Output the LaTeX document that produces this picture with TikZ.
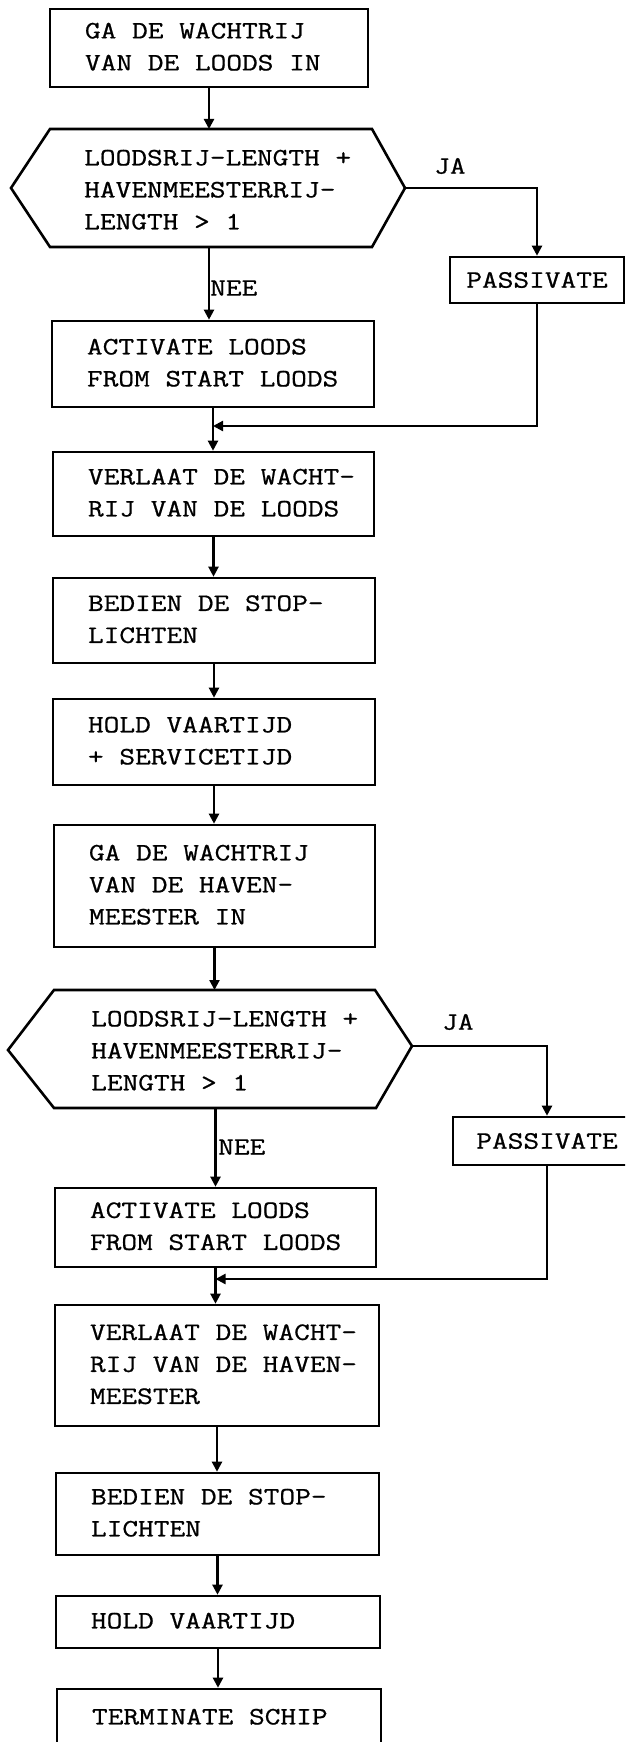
\documentclass[tikz,border=0pt]{standalone}
\usepackage{fontspec}
\newfontfamily\tw[FakeStretch=1.22,FakeBold=0.8]{Latin Modern Mono}
\usetikzlibrary{arrows.meta}
\newcommand\lbox[2]{\makebox[#1][l]{\begin{tabular}{@{}l@{}}#2\end{tabular}}}
\newcommand\lns[1]{\begin{tabular}{@{}l@{}}#1\end{tabular}}
\tikzset{
  every node/.style={font=\tw\fontsize{25}{32}\selectfont, text=black},
  box/.style={draw, line width=2.6pt, rectangle, inner xsep=35pt, inner ysep=0pt},
  pbox/.style={draw, line width=2.6pt, rectangle, inner sep=0pt},
  txt/.style={inner sep=0pt},
  arr/.style={line width=2.2pt, -{Triangle[length=10pt,width=10pt]}},
  hex/.style={draw, line width=2.6pt, line join=miter},
}
\begin{document}
\begin{tikzpicture}[x=1pt,y=-1pt]
\useasboundingbox (0,0) rectangle (625,1742);
\clip (0,0) rectangle (625,1742);

% boxes
\node[box, minimum height=78pt] (b1) at (209,48) {\lbox{248pt}{GA DE WACHTRIJ\\VAN DE LOODS IN}};
\node[box, minimum height=86pt] (a1) at (213,364) {\lbox{252pt}{ACTIVATE LOODS\\FROM START LOODS}};
\node[box, minimum height=84pt] (v1) at (213.5,494) {\lbox{251pt}{VERLAAT DE WACHT-\\RIJ VAN DE LOODS}};
\node[box, minimum height=85pt] (bd1) at (214,620.5) {\lbox{252pt}{BEDIEN DE STOP-\\LICHTEN}};
\node[box, minimum height=86pt] (h1) at (214,742) {\lbox{252pt}{HOLD VAARTIJD\\+ SERVICETIJD}};
\node[box, minimum height=122pt] (g2) at (214.5,886) {\lbox{251pt}{GA DE WACHTRIJ\\VAN DE HAVEN-\\MEESTER IN}};
\node[box, minimum height=79pt] (a2) at (215.5,1227.5) {\lbox{251pt}{ACTIVATE LOODS\\FROM START LOODS}};
\node[box, minimum height=121pt] (v2) at (217,1365.5) {\lbox{254pt}{VERLAAT DE WACHT-\\RIJ VAN DE HAVEN-\\MEESTER}};
\node[box, minimum height=82pt] (bd2) at (217.5,1514) {\lbox{253pt}{BEDIEN DE STOP-\\LICHTEN}};
\node[box, minimum height=52pt] (h2) at (218,1622) {\lbox{254pt}{HOLD VAARTIJD}};
\node[box, minimum height=58pt] (t) at (219,1718) {\lbox{254pt}{TERMINATE SCHIP}};

\node[pbox, minimum width=174pt, minimum height=46pt] (p1) at (537,280) {PASSIVATE};
\node[pbox, minimum width=188pt, minimum height=48pt] (p2) at (547,1141) {PASSIVATE};

% decisions
\coordinate (d1w) at (11,188);
\coordinate (d1e) at (405,188);
\coordinate (d1n) at (209,129);
\coordinate (d1s) at (209,247);
\draw[hex] (d1w) -- (50,129) -- (372,129) -- (d1e) -- (372,247) -- (50,247) -- cycle;
\node[txt, anchor=west] (d1) at (84,191) {\lns{LOODSRIJ-LENGTH +\\HAVENMEESTERRIJ-\\LENGTH > 1}};

\coordinate (d2w) at (8,1050);
\coordinate (d2e) at (412,1046);
\coordinate (d2n) at (214.5,990);
\coordinate (d2s) at (215.5,1108);
\draw[hex] (d2w) -- (54,990) -- (375,990) -- (d2e) -- (376,1108) -- (54,1108) -- cycle;
\node[txt, anchor=west] (d2) at (91,1052) {\lns{LOODSRIJ-LENGTH +\\HAVENMEESTERRIJ-\\LENGTH > 1}};

% labels
\node[txt, anchor=west] (ja1) at (434,166) {JA};
\node[txt, anchor=west] (nee1) at (210,288) {NEE};
\node[txt, anchor=west] (ja2) at (442,1022) {JA};
\node[txt, anchor=west] (nee2) at (218,1147) {NEE};

\coordinate (m1) at (213,426);
\coordinate (m2) at (215.5,1279);

% connectors
\draw[arr] (b1.south) -- (b1.south |- d1n);
\draw[arr] (d1e) -| (p1.north);
\draw[arr] (d1s) -- (d1s |- a1.north);
\draw[arr] (p1.south) |- (m1);
\draw[arr] (a1.south) -- (a1.south |- v1.north);
\draw[arr] (v1.south) -- (v1.south |- bd1.north);
\draw[arr] (bd1.south) -- (bd1.south |- h1.north);
\draw[arr] (h1.south) -- (h1.south |- g2.north);
\draw[arr] (g2.south) -- (g2.south |- d2n);
\draw[arr] (d2e) -| (p2.north);
\draw[arr] (d2s) -- (d2s |- a2.north);
\draw[arr] (p2.south) |- (m2);
\draw[arr] (a2.south) -- (a2.south |- v2.north);
\draw[arr] (v2.south) -- (v2.south |- bd2.north);
\draw[arr] (bd2.south) -- (bd2.south |- h2.north);
\draw[arr] (h2.south) -- (h2.south |- t.north);
\end{tikzpicture}
\end{document}
